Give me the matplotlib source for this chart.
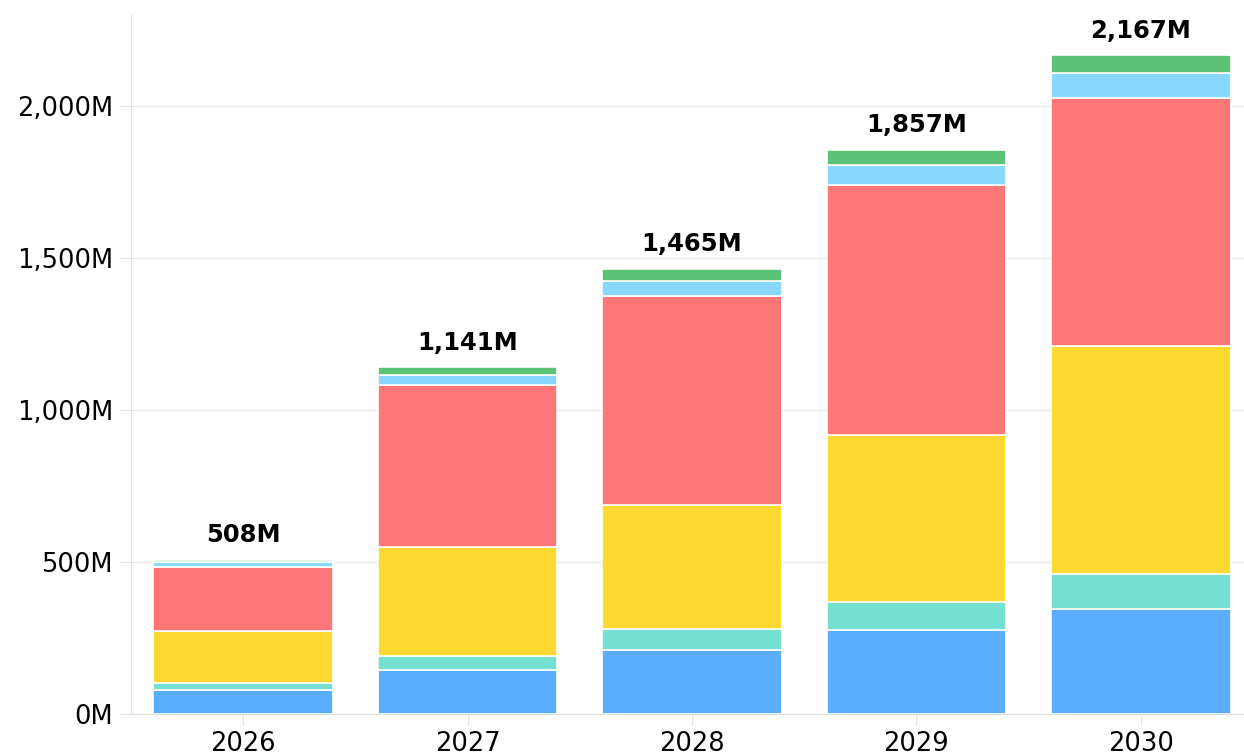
import matplotlib
matplotlib.use("Agg")
import matplotlib.pyplot as plt
import numpy as np

years = ["2026", "2027", "2028", "2029", "2030"]
blue = [80, 145, 211, 278, 345]
teal = [22, 46, 69, 90, 115]
yellow = [170, 359, 407, 551, 752]
red = [213, 532, 689, 822, 814]
lightblue = [14, 33, 49, 65, 83]
green = [9, 26, 40, 51, 58]
totals = [508, 1141, 1465, 1857, 2167]

series = [blue, teal, yellow, red, lightblue, green]
colors = ["#5AADFF", "#74E0D2", "#FED931", "#FF7676", "#88D8FF", "#5CC275"]

plt.rcParams['font.family'] = ['DejaVu Sans']
fig = plt.figure(figsize=(12.44, 7.55), dpi=100)
ax = fig.add_axes([131/1244, 41/755, 1 - 131/1244, (714-15)/755])

x = np.arange(len(years))
bottom = np.zeros(len(years))
for vals, c in zip(series, colors):
    ax.bar(x, vals, width=0.8, bottom=bottom, color=c, edgecolor="white", linewidth=1.2, zorder=3)
    bottom += np.array(vals)

for xi, t in zip(x, totals):
    ax.annotate(f"{t:,}M", (xi, t), xytext=(0, 9), textcoords="offset points",
                ha="center", va="bottom", fontsize=17.5, fontweight="bold", color="black")

ax.set_xlim(-0.5, 4.46)
ax.set_ylim(0, 2300)
ax.set_yticks([0, 500, 1000, 1500, 2000])
ax.set_yticklabels([f"{v:,}M" for v in [0, 500, 1000, 1500, 2000]])
ax.set_xticks(x)
ax.set_xticklabels(years)
ax.grid(axis="y", color="#E8E8E8", linewidth=1, zorder=0)
for s in ["top", "right"]:
    ax.spines[s].set_visible(False)
for s in ["left", "bottom"]:
    ax.spines[s].set_color("#E0E0E0")
ax.tick_params(axis="y", length=8, color="#E0E0E0", labelsize=18.5, pad=5, labelcolor="black")
ax.tick_params(axis="x", length=8, color="#E0E0E0", labelsize=18.5, pad=4, labelcolor="black")

fig.savefig("out.png", dpi=100)
